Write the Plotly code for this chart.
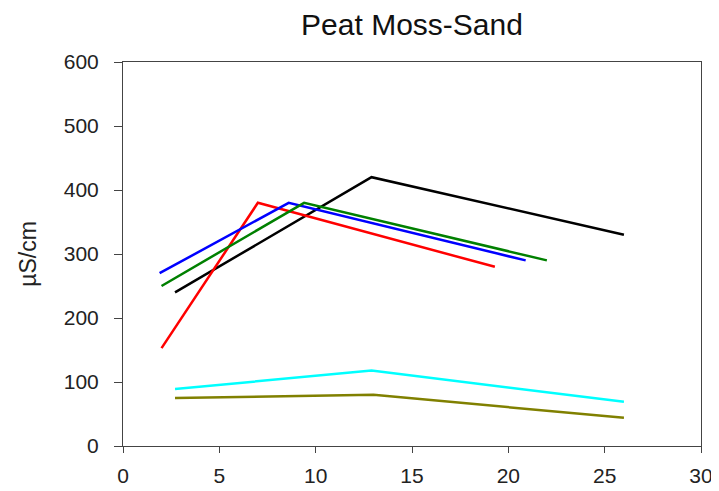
import plotly.graph_objects as go

# Data
black_x = [2.7, 12.9, 26.0]
black_y = [240, 420, 330]
red_x = [2.0, 7.0, 19.3]
red_y = [153, 380, 280]
blue_x = [1.9, 8.6, 20.9]
blue_y = [270, 380, 290]
green_x = [2.0, 9.4, 22.0]
green_y = [250, 380, 290]
cyan_x = [2.7, 12.9, 26.0]
cyan_y = [89, 118, 69]
olive_x = [2.7, 7.8, 13.0, 26.0]
olive_y = [75, 77, 80, 44]

x_ticks = [0, 5, 10, 15, 20, 25, 30]
y_ticks = [0, 100, 200, 300, 400, 500, 600]

series = [
    (black_x, black_y, "#000000"),
    (red_x, red_y, "#FF0000"),
    (blue_x, blue_y, "#0000FF"),
    (green_x, green_y, "#008000"),
    (cyan_x, cyan_y, "#00FFFF"),
    (olive_x, olive_y, "#808000"),
]

fig = go.Figure()
for xs, ys, col in series:
    fig.add_trace(go.Scatter(x=xs, y=ys, mode="lines",
                             line=dict(color=col, width=2.5),
                             showlegend=False))

W, H = 711, 483
font = "Liberation Sans, Arial, sans-serif"
fig.update_layout(
    width=W, height=H,
    margin=dict(l=115, r=18, t=54, b=45, autoexpand=False),
    paper_bgcolor="white", plot_bgcolor="white",
    font=dict(family=font, color="#222222", size=21),
    title=dict(text="Peat Moss-Sand", x=404 / W, xanchor="center",
               y=(H - 16) / H, yanchor="middle", yref="container",
               automargin=False,
               font=dict(family=font, size=30, color="#111111")),
)
fig.update_xaxes(range=[0, 30], tickvals=x_ticks, showgrid=False, zeroline=False,
                 showline=True, linecolor="#444444", linewidth=1, mirror=True,
                 ticks="outside", ticklen=6, tickcolor="#444444",
                 ticklabelstandoff=5,
                 tickfont=dict(size=21), automargin=False)
fig.update_yaxes(range=[0, 600], tickvals=y_ticks, showgrid=False, zeroline=False,
                 showline=True, linecolor="#444444", linewidth=1, mirror=True,
                 ticks="outside", ticklen=8, tickcolor="#444444",
                 ticklabelstandoff=11,
                 tickfont=dict(size=21), automargin=False,
                 title=dict(text="µS/cm", font=dict(size=23), standoff=20))

fig.write_html("out.html")
